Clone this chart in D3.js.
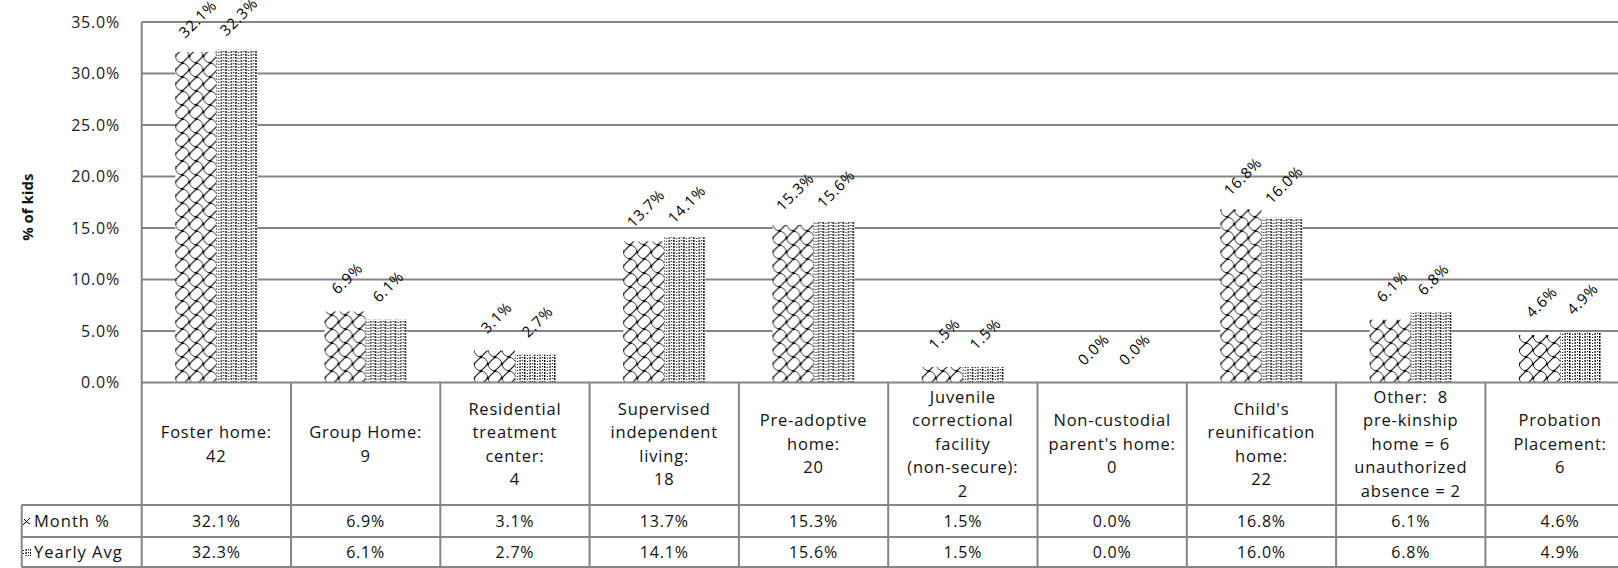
<!DOCTYPE html>
<html>
<head>
<meta charset="utf-8">
<script src="https://cdn.jsdelivr.net/npm/d3@7"></script>
<style>
  body { margin: 0; background: #fff; }
  text { font-family: "Open Sans", sans-serif; fill: #111; }
</style>
</head>
<body>
<svg id="chart" width="1618" height="568"></svg>
<script>
// placement categories, one line per entry of the inner array
const categories = [
  ["Foster home:", "42"],
  ["Group Home:", "9"],
  ["Residential", "treatment", "center:", "4"],
  ["Supervised", "independent", "living:", "18"],
  ["Pre-adoptive", "home:", "20"],
  ["Juvenile", "correctional", "facility", "(non-secure):", "2"],
  ["Non-custodial", "parent's home:", "0"],
  ["Child's", "reunification", "home:", "22"],
  ["Other:\u00a0 8", "pre-kinship", "home = 6", "unauthorized", "absence = 2"],
  ["Probation", "Placement:", "6"]
]
const monthPct = [32.1, 6.9, 3.1, 13.7, 15.3, 1.5, 0.0, 16.8, 6.1, 4.6]
const yearlyAvg = [32.3, 6.1, 2.7, 14.1, 15.6, 1.5, 0.0, 16.0, 6.8, 4.9]
const seriesNames = ["Month %", "Yearly Avg"]
const yTicks = [0, 5, 10, 15, 20, 25, 30, 35]

const svg = d3.select("#chart")
const gridColor = "#858585"

// plot area (the original is cropped at the right edge, so it runs past 1618)
const plotLeft = 141.7, plotRight = 1634.7, plotTop = 22, plotBottom = 382.5
const tableLeft = 21.7, catBottom = 505, monthBottom = 537, tableBottom = 567

const idx = d3.range(categories.length)
const x0 = d3.scaleBand().domain(idx).range([plotLeft, plotRight]).paddingInner(0.45).paddingOuter(0.225)
const x1 = d3.scaleBand().domain(seriesNames).range([0, x0.bandwidth()])
const col = d3.scaleBand().domain(idx).range([plotLeft, plotRight])
const y = d3.scaleLinear().domain([0, 35]).range([plotBottom, plotTop])

// fill patterns
const defs = svg.append("defs")
const pm = defs.append("pattern").attr("id", "pMonth")
  .attr("patternUnits", "userSpaceOnUse").attr("width", 14).attr("height", 14)
pm.append("rect").attr("width", 14).attr("height", 14).attr("fill", "#fff")
pm.append("path").attr("d", "M0,14 L14,0")
  .attr("stroke", "#000").attr("stroke-width", 1.1).attr("fill", "none")
pm.append("path").attr("d", "M0,0 Q1,6 7,7 M7,7 Q13,8 14,14")
  .attr("stroke", "#000").attr("stroke-width", 0.8).attr("fill", "none")
pm.selectAll("circle").data([[0, 14], [14, 0], [7, 7], [0, 0], [14, 14]]).enter().append("circle")
  .attr("cx", d => d[0]).attr("cy", d => d[1]).attr("r", 1.3).attr("fill", "#000")

const py = defs.append("pattern").attr("id", "pYear")
  .attr("patternUnits", "userSpaceOnUse").attr("width", 10).attr("height", 3)
py.append("rect").attr("width", 10).attr("height", 3).attr("fill", "#fff")
py.selectAll("rect.d").data([[0, 0, 1.5, 2], [3, 1, 1, 1], [5.5, 0, 1.2, 2], [8, 0, 1, 1]])
  .enter().append("rect").attr("class", "d")
  .attr("x", d => d[0]).attr("y", d => d[1]).attr("width", d => d[2]).attr("height", d => d[3])
  .attr("fill", "#000")

const fills = { "Month %": "url(#pMonth)", "Yearly Avg": "url(#pYear)" }

// gridlines
svg.append("g").selectAll("line")
  .data(yTicks.filter(t => t > 0))
  .enter().append("line")
    .attr("x1", plotLeft).attr("x2", plotRight)
    .attr("y1", d => y(d)).attr("y2", d => y(d))
    .attr("stroke", gridColor).attr("stroke-width", 1.8)

// y tick labels
svg.append("g").selectAll("text")
  .data(yTicks)
  .enter().append("text")
    .attr("x", 120).attr("y", d => y(d))
    .attr("dy", ".35em")
    .attr("text-anchor", "end")
    .style("font-size", "16px").style("letter-spacing", "0.8px").style("fill", "#222")
    .text(d => d.toFixed(1) + "%")

svg.append("text")
  .attr("transform", "translate(28," + (plotTop + plotBottom + 10) / 2 + ") rotate(-90)")
  .attr("text-anchor", "middle").attr("dy", ".35em")
  .style("font-size", "15px").style("font-weight", "bold")
  .text("% of kids")

// bars
const rows = idx.map(i => ({ i, values: [monthPct[i], yearlyAvg[i]] }))
const group = svg.append("g").selectAll("g")
  .data(rows)
  .enter().append("g")
    .attr("transform", d => "translate(" + x0(d.i) + ",0)")

group.selectAll("rect")
  .data(d => seriesNames.map((s, k) => ({ s, v: d.values[k] })))
  .enter().append("rect")
    .attr("x", d => x1(d.s))
    .attr("y", d => y(d.v))
    .attr("width", x1.bandwidth())
    .attr("height", d => plotBottom - y(d.v))
    .attr("fill", d => fills[d.s])

group.selectAll("text")
  .data(d => seriesNames.map((s, k) => ({ s, v: d.values[k] })))
  .enter().append("text")
    .attr("transform", d => "translate(" + (x1(d.s) + x1.bandwidth() / 2 + 2) + "," + (y(d.v) - 33) + ") rotate(-45)")
    .attr("text-anchor", "middle").attr("dy", ".35em")
    .style("font-size", "15px").style("letter-spacing", "0.8px").style("fill", "#000")
    .text(d => d.v.toFixed(1) + "%")

// data table
const table = svg.append("g")
const hLines = [
  [plotLeft, plotRight, plotBottom],
  [tableLeft, plotRight, catBottom],
  [tableLeft, plotRight, monthBottom],
  [tableLeft, plotRight, tableBottom]
]
table.selectAll("line.h").data(hLines).enter().append("line")
  .attr("x1", d => d[0]).attr("x2", d => d[1]).attr("y1", d => d[2]).attr("y2", d => d[2])
  .attr("stroke", gridColor).attr("stroke-width", 2)

const colEdges = idx.map(i => col(i)).concat([plotRight])
table.selectAll("line.v").data(colEdges).enter().append("line")
  .attr("x1", d => d).attr("x2", d => d)
  .attr("y1", (d, k) => k === 0 ? plotTop : plotBottom).attr("y2", tableBottom)
  .attr("stroke", gridColor).attr("stroke-width", 2)
table.append("line")
  .attr("x1", tableLeft).attr("x2", tableLeft).attr("y1", catBottom).attr("y2", tableBottom)
  .attr("stroke", gridColor).attr("stroke-width", 2)

const lineH = 23.5, catMid = 444
table.selectAll("text.cat")
  .data(rows)
  .enter().append("text")
    .attr("text-anchor", "middle")
    .style("font-size", "16.5px").style("letter-spacing", "0.8px")
  .selectAll("tspan")
  .data(d => categories[d.i].map((t, k, a) => ({ t, k, n: a.length, i: d.i })))
  .enter().append("tspan")
    .attr("x", d => col(d.i) + col.bandwidth() / 2)
    .attr("y", d => catMid + (d.k - (d.n - 1) / 2) * lineH)
    .attr("dy", ".35em")
    .text(d => d.t)

const valueRows = [
  { name: "Month %", values: monthPct, mid: (catBottom + monthBottom) / 2 },
  { name: "Yearly Avg", values: yearlyAvg, mid: (monthBottom + tableBottom) / 2 }
]
valueRows.forEach(r => {
  table.selectAll(null)
    .data(r.values)
    .enter().append("text")
      .attr("x", (d, i) => col(i) + col.bandwidth() / 2)
      .attr("y", r.mid).attr("dy", ".35em")
      .attr("text-anchor", "middle")
      .style("font-size", "16px").style("letter-spacing", "0.8px")
      .text(d => d.toFixed(1) + "%")
  table.append("text")
    .attr("x", 34).attr("y", r.mid).attr("dy", ".35em")
    .style("font-size", "16.5px").style("letter-spacing", "1px")
    .text(r.name)
})

// small legend keys in front of the row names
const keyY = valueRows.map(r => r.mid)
table.append("path")
  .attr("d", "M23," + (keyY[0] + 4) + " L30," + (keyY[0] - 3) + " M24," + (keyY[0] - 2) + " Q26," + (keyY[0] + 1) + " 30," + (keyY[0] + 3))
  .attr("stroke", "#000").attr("stroke-width", 1).attr("fill", "none")
table.append("rect")
  .attr("x", 23).attr("y", keyY[1] - 4).attr("width", 8).attr("height", 8)
  .attr("fill", fills["Yearly Avg"])
</script>
</body>
</html>
